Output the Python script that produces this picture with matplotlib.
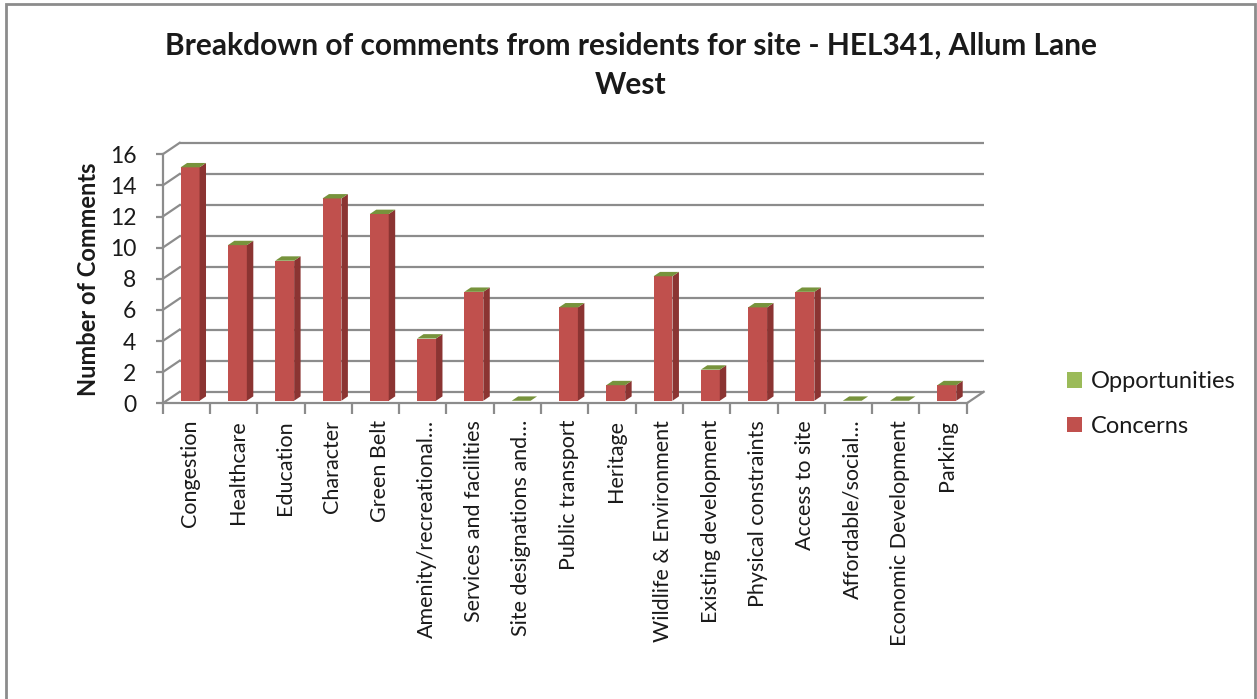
import matplotlib
matplotlib.use("Agg")
import matplotlib.pyplot as plt
from matplotlib.patches import Polygon, Patch, Rectangle
from matplotlib.transforms import ScaledTranslation

plt.rcParams['font.family'] = ['Lato', 'DejaVu Sans']

categories = ["Congestion", "Healthcare", "Education", "Character", "Green Belt",
              "Amenity/recreational…", "Services and facilities", "Site designations and…",
              "Public transport", "Heritage", "Wildlife & Environment", "Existing development",
              "Physical constraints", "Access to site", "Affordable/social…",
              "Economic Development", "Parking"]
concerns = [15, 10, 9, 13, 12, 4, 7, 0, 6, 1, 8, 2, 6, 7, 0, 0, 1]
opportunities = [0] * len(categories)
y_ticks = [0, 2, 4, 6, 8, 10, 12, 14, 16]
title = "Breakdown of comments from residents for site - HEL341, Allum Lane\nWest"
y_label = "Number of Comments"

W, H = 1257, 699
fig = plt.figure(figsize=(W / 100, H / 100), dpi=100)
fig.patch.set_facecolor('white')

# front plane of the 3D chart
left_px, right_px, top_px, bottom_px = 162.7, 966.7, 154.3, 403.3
ax = fig.add_axes([left_px / W, 1 - bottom_px / H, (right_px - left_px) / W, (bottom_px - top_px) / H])
n = len(categories)
ax.set_xlim(0, n)
ax.set_ylim(0, 16)
ax.set_facecolor('none')
for s in ['top', 'right']:
    ax.spines[s].set_visible(False)
grid_col = '#8c8c8c'
for s in ['left', 'bottom']:
    ax.spines[s].set_color(grid_col)
    ax.spines[s].set_linewidth(1.6)

# depth offset (pixels -> data units)
px_per_x = (right_px - left_px) / n
px_per_y = (bottom_px - top_px) / 16
DDX = 17.0 / px_per_x
DDY = 11.5 / px_per_y

def P(x, y, d):
    return (x + d * DDX, y + d * DDY)

# back wall gridlines + side wall diagonals
for v in y_ticks:
    ax.plot([P(0, v, 1)[0], P(n, v, 1)[0]], [P(0, v, 1)[1], P(n, v, 1)[1]],
            color=grid_col, lw=1.6, clip_on=False, zorder=1, solid_capstyle='butt')
    ax.plot([0, P(0, v, 1)[0]], [v, P(0, v, 1)[1]], color=grid_col, lw=1.6,
            clip_on=False, zorder=1)
# right floor edge
ax.plot([n, P(n, 0, 1)[0]], [0, P(n, 0, 1)[1]], color=grid_col, lw=1.6, clip_on=False, zorder=1)

# bars
bw = 0.40
df, db = 0.22, 0.60
front_c, side_c, green_top = '#c0504d', '#8b3432', '#77933c'
for i, (c, o) in enumerate(zip(concerns, opportunities)):
    x0 = i + 0.5 - bw / 2
    x1 = i + 0.5 + bw / 2
    h = c + o
    if c > 0:
        ax.add_patch(Polygon([P(x0, 0, df), P(x1, 0, df), P(x1, c, df), P(x0, c, df)],
                             closed=True, fc=front_c, ec='none', zorder=3, clip_on=False))
        ax.add_patch(Polygon([P(x1, 0, df), P(x1, 0, db), P(x1, c, db), P(x1, c, df)],
                             closed=True, fc=side_c, ec='none', zorder=3, clip_on=False))
    ax.add_patch(Polygon([P(x0, h, df), P(x1, h, df), P(x1, h, db), P(x0, h, db)],
                         closed=True, fc=green_top, ec='none', zorder=4, clip_on=False))

# axes ticks
ax.set_yticks(y_ticks)
ax.set_yticklabels([str(v) for v in y_ticks])
ax.tick_params(axis='y', direction='out', length=5, width=1.6, color=grid_col,
               pad=14, labelsize=16.5, labelcolor='#1a1a1a')
ax.set_xticks(range(n + 1))
ax.set_xticklabels([])
ax.set_xticks([i + 0.5 for i in range(n)], minor=True)
ax.set_xticklabels(categories, minor=True, rotation=90, fontsize=15.5, color='#1a1a1a')
ax.tick_params(axis='x', which='major', direction='out', length=8, width=1.6, color=grid_col)
ax.tick_params(axis='x', which='minor', length=0, pad=12)
for lbl in ax.get_xticklabels(minor=True):
    lbl.set_transform(lbl.get_transform() + ScaledTranslation(4 / 100, 0, fig.dpi_scale_trans))

# title and y label
fig.text(0.502, 1 - 65 / H, title, ha='center', va='center', fontsize=21.5,
         fontweight='bold', linespacing=1.5, color='#1a1a1a')
fig.text(88 / W, 1 - 279 / H, y_label, ha='center', va='center', rotation=90,
         fontsize=17, fontweight='bold', color='#1a1a1a')

# legend
handles = [Patch(fc='#9bbb59', ec='none', label='Opportunities'),
           Patch(fc='#c0504d', ec='none', label='Concerns')]
fig.legend(handles=handles, loc='center left', bbox_to_anchor=(1055 / W, 1 - 404 / H),
           frameon=False, fontsize=17, handlelength=0.65, handleheight=0.65,
           handletextpad=0.35, labelspacing=1.0, borderpad=0, labelcolor='#1a1a1a')

# chart border
fig.add_artist(Rectangle((6 / W, -0.01), (1255 - 6) / W, 1.01 - 4 / H,
                         transform=fig.transFigure, fill=False, ec='#8c8c8c', lw=2))

fig.savefig('out.png', dpi=100)
